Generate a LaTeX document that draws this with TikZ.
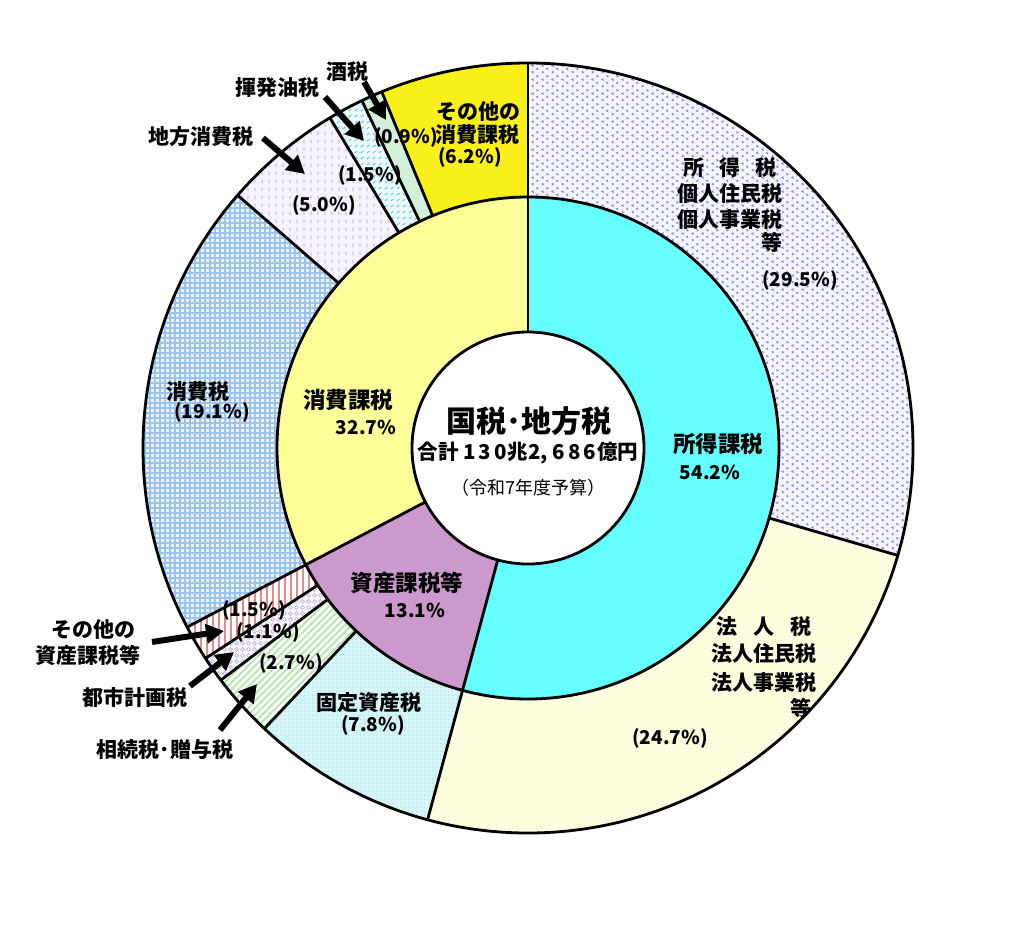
\documentclass[tikz,border=0pt]{standalone}
\usepackage{fontspec}
\setmainfont{Noto Sans CJK JP}
\usetikzlibrary{arrows.meta,patterns}

\pgfdeclarepatternformonly{chev}{\pgfqpoint{0pt}{0pt}}{\pgfqpoint{10pt}{14pt}}{\pgfqpoint{10pt}{14pt}}{%
  \pgfsetlinewidth{0.8pt}%
  \pgfpathmoveto{\pgfqpoint{2pt}{1pt}}\pgfpathlineto{\pgfqpoint{4pt}{2pt}}\pgfpathlineto{\pgfqpoint{2pt}{3pt}}%
  \pgfpathmoveto{\pgfqpoint{9pt}{4.5pt}}\pgfpathlineto{\pgfqpoint{7pt}{5.5pt}}\pgfpathlineto{\pgfqpoint{9pt}{6.5pt}}%
  \pgfpathmoveto{\pgfqpoint{4pt}{8pt}}\pgfpathlineto{\pgfqpoint{2pt}{9pt}}\pgfpathlineto{\pgfqpoint{4pt}{10pt}}%
  \pgfpathmoveto{\pgfqpoint{7pt}{11.5pt}}\pgfpathlineto{\pgfqpoint{9pt}{12.5pt}}\pgfpathlineto{\pgfqpoint{7pt}{13.5pt}}%
  \pgfusepath{stroke}}
\pgfdeclarepatternformonly{fgrid}{\pgfqpoint{-1pt}{-1pt}}{\pgfqpoint{6pt}{6pt}}{\pgfqpoint{5pt}{5pt}}{%
  \pgfsetlinewidth{1.1pt}%
  \pgfpathmoveto{\pgfqpoint{0pt}{-1pt}}\pgfpathlineto{\pgfqpoint{0pt}{6pt}}%
  \pgfpathmoveto{\pgfqpoint{-1pt}{0pt}}\pgfpathlineto{\pgfqpoint{6pt}{0pt}}%
  \pgfusepath{stroke}}
\pgfdeclarepatternformonly{vdash}{\pgfqpoint{0pt}{0pt}}{\pgfqpoint{7pt}{8pt}}{\pgfqpoint{7pt}{8pt}}{%
  \pgfsetlinewidth{0.9pt}%
  \pgfpathmoveto{\pgfqpoint{3.5pt}{1pt}}\pgfpathlineto{\pgfqpoint{3.5pt}{5pt}}%
  \pgfusepath{stroke}}
\pgfdeclarepatternformonly{cdiag}{\pgfqpoint{0pt}{0pt}}{\pgfqpoint{6pt}{6pt}}{\pgfqpoint{6pt}{6pt}}{%
  \pgfsetlinewidth{0.9pt}%
  \pgfpathmoveto{\pgfqpoint{1pt}{1pt}}\pgfpathlineto{\pgfqpoint{4pt}{3.5pt}}%
  \pgfusepath{stroke}}
\pgfdeclarepatternformonly{rvlines}{\pgfqpoint{0pt}{-1pt}}{\pgfqpoint{6pt}{5pt}}{\pgfqpoint{6pt}{4pt}}{%
  \pgfsetlinewidth{1.4pt}%
  \pgfpathmoveto{\pgfqpoint{3pt}{-1pt}}\pgfpathlineto{\pgfqpoint{3pt}{5pt}}%
  \pgfusepath{stroke}}
\pgfdeclarepatternformonly{rings}{\pgfqpoint{0pt}{0pt}}{\pgfqpoint{6pt}{6pt}}{\pgfqpoint{6pt}{6pt}}{%
  \pgfsetlinewidth{0.6pt}%
  \pgfpathcircle{\pgfqpoint{3pt}{3pt}}{2.2pt}%
  \pgfusepath{stroke}}
\pgfdeclarepatternformonly{gdiag}{\pgfqpoint{-1pt}{-1pt}}{\pgfqpoint{8pt}{8pt}}{\pgfqpoint{7pt}{7pt}}{%
  \pgfsetlinewidth{1.8pt}%
  \pgfpathmoveto{\pgfqpoint{0pt}{0pt}}\pgfpathlineto{\pgfqpoint{7.1pt}{7.1pt}}%
  \pgfusepath{stroke}}
\pgfdeclarepatternformonly{fdots}{\pgfqpoint{0pt}{0pt}}{\pgfqpoint{4pt}{4pt}}{\pgfqpoint{4pt}{4pt}}{%
  \pgfpathcircle{\pgfqpoint{1pt}{1pt}}{0.7pt}%
  \pgfusepath{fill}}

\definecolor{cyanin}{RGB}{102,255,255}
\definecolor{yellowin}{RGB}{255,255,153}
\definecolor{purplein}{RGB}{204,153,204}
\definecolor{incbg}{RGB}{244,244,252}
\definecolor{incfg}{RGB}{125,125,215}
\definecolor{corpbg}{RGB}{255,255,226}
\definecolor{corpfg}{RGB}{246,240,190}
\definecolor{fixbg}{RGB}{214,245,248}
\definecolor{fixfg}{RGB}{150,215,225}
\definecolor{grnfg}{RGB}{185,232,175}
\definecolor{ringfg}{RGB}{185,165,210}
\definecolor{ringbg}{RGB}{249,246,251}
\definecolor{redfg}{RGB}{228,140,140}
\definecolor{gridbg}{RGB}{236,244,253}
\definecolor{gridfg}{RGB}{155,195,238}
\definecolor{locbg}{RGB}{246,243,252}
\definecolor{locfg}{RGB}{170,150,220}
\definecolor{gasbg}{RGB}{236,250,252}
\definecolor{gasfg}{RGB}{60,200,220}
\definecolor{sakebg}{RGB}{210,240,215}
\definecolor{othbg}{RGB}{250,240,25}

\newcommand\ringseg[5]{\path[#5] (#1:#3) arc[start angle=#1,end angle=#2,radius=#3] -- (#2:#4) arc[start angle=#2,end angle=#1,radius=#4] -- cycle;}

\begin{document}
\begin{tikzpicture}[x=1pt,y=-1pt,
  bd/.style={line width=2.8pt,black},
  lab/.style={font=\fontsize{21}{24}\selectfont\bfseries,inner sep=0pt},
  inlab/.style={font=\fontsize{22.5}{26}\selectfont\bfseries,inner sep=0pt},
  pct/.style={font=\fontsize{19}{22}\selectfont\bfseries,inner sep=0pt},
  arr/.style={line width=6pt,black,-{Triangle[length=18pt,width=19pt]}}]
\useasboundingbox (0,0) rectangle (1024,928);
\fill[white] (0,0) rectangle (1024,928);

\begin{scope}[shift={(528,448)}]
  % inner ring
  \ringseg{-90}{105.12}{116}{251}{fill=cyanin}
  \ringseg{105.12}{152.28}{116}{251}{fill=purplein}
  \ringseg{152.28}{270}{116}{251}{fill=yellowin}
  % outer ring
  \ringseg{-90}{16.2}{251}{385}{fill=incbg,postaction={pattern=chev,pattern color=incfg}}
  \ringseg{16.2}{105.12}{251}{385}{fill=corpbg,postaction={pattern=fdots,pattern color=corpfg}}
  \ringseg{105.12}{133.2}{251}{385}{fill=fixbg,postaction={pattern=fdots,pattern color=fixfg}}
  \ringseg{133.2}{142.92}{251}{385}{fill=white,postaction={pattern=gdiag,pattern color=grnfg}}
  \ringseg{142.92}{146.88}{251}{385}{fill=ringbg,postaction={pattern=rings,pattern color=ringfg}}
  \ringseg{146.88}{152.28}{251}{385}{fill=white,postaction={pattern=rvlines,pattern color=redfg}}
  \ringseg{152.28}{221.04}{251}{385}{fill=gridbg,postaction={pattern=fgrid,pattern color=gridfg}}
  \ringseg{221.04}{239.04}{251}{385}{fill=locbg,postaction={pattern=vdash,pattern color=locfg}}
  \ringseg{239.04}{244.44}{251}{385}{fill=gasbg,postaction={pattern=cdiag,pattern color=gasfg}}
  \ringseg{244.44}{247.68}{251}{385}{fill=sakebg}
  \ringseg{247.68}{270}{251}{385}{fill=othbg}
  % centre
  \fill[white] (0,0) circle[radius=116];
  % boundaries
  \draw[bd] (0,0) circle[radius=385];
  \draw[bd] (0,0) circle[radius=251];
  \draw[bd] (0,0) circle[radius=116];
  \foreach \a in {-90,105.12,152.28} \draw[bd] (\a:116) -- (\a:251);
  \foreach \a in {-90,16.2,105.12,133.2,142.92,146.88,152.28,221.04,239.04,244.44,247.68} \draw[bd] (\a:251) -- (\a:385);
\end{scope}

% centre texts
\node[font=\fontsize{30}{32}\selectfont\bfseries,inner sep=0pt] (ttl) at (529,421) {国税･地方税};
\node[font=\fontsize{20.5}{24}\selectfont\bfseries,inner sep=0pt] (tot) at (528,453) {合計 1\kern3pt3\kern3pt0\kern1pt兆2, 6\kern3pt8\kern3pt6\kern1pt億円};
\node[font=\fontsize{18}{22}\selectfont,inner sep=0pt] (yr) at (528,488) {（令和7年度予算）};

% inner ring labels
\node[inlab] (i1) at (718,444) {所得課税};
\node[pct] (i1p) at (710,472) {54.2\%};
\node[inlab] (i2) at (348,400) {消費課税};
\node[pct] (i2p) at (366,427) {32.7\%};
\node[inlab] (i3) at (407,583) {資産課税等};
\node[pct] (i3p) at (415,610) {13.1\%};

% outer ring labels
\node[lab] (o1a) at (730,168) {所\hspace{15pt}得\hspace{15pt}税};
\node[lab] (o1b) at (730,194) {個人住民税};
\node[lab] (o1c) at (730,220) {個人事業税};
\node[lab] (o1d) at (772,242) {等};
\node[pct] (o1p) at (800,280) {(29.5\%)};
\node[lab] (o2a) at (764,627) {法\hspace{16pt}人\hspace{16pt}税};
\node[lab] (o2b) at (764,654) {法人住民税};
\node[lab] (o2c) at (764,683) {法人事業税};
\node[lab] (o2d) at (801,708) {等};
\node[pct] (o2p) at (670,738) {(24.7\%)};
\node[lab] (o3) at (369,703) {固定資産税};
\node[pct] (o3p) at (373,725) {(7.8\%)};
\node[pct] (o4p) at (291,663) {(2.7\%)};
\node[pct] (o5p) at (268,632) {(1.1\%)};
\node[pct] (o6p) at (254,610) {(1.5\%)};
\node[lab] (o6a) at (93,630) {その他の};
\node[lab] (o6b) at (88,655) {資産課税等};
\node[lab] (o5) at (135,697) {都市計画税};
\node[lab] (o4) at (165,750) {相続税･贈与税};
\node[lab] (o7) at (198,392) {消費税};
\node[pct] (o7p) at (212,412) {(19.1\%)};
\node[lab] (o8) at (201,137) {地方消費税};
\node[pct] (o8p) at (324,205) {(5.0\%)};
\node[lab] (o9) at (277,88) {揮発油税};
\node[pct] (o9p) at (370,175) {(1.5\%)};
\node[lab] (o10) at (347,72) {酒税};
\node[pct] (o10p) at (406,137) {(0.9\%)};
\node[lab] (o11a) at (478,112) {その他の};
\node[lab] (o11b) at (477,135) {消費課税};
\node[pct] (o11p) at (470,157) {(6.2\%)};

% arrows
\coordinate (a8s) at (263,138);  \coordinate (a8e) at (305,174);
\coordinate (a9s) at (325,97);   \coordinate (a9e) at (364,141);
\coordinate (a10s) at (364,82);  \coordinate (a10e) at (386,120);
\coordinate (a6s) at (152,642);  \coordinate (a6e) at (224,631);
\coordinate (a5s) at (190,686);  \coordinate (a5e) at (234,652);
\coordinate (a4s) at (220,730);  \coordinate (a4e) at (257,684);
\draw[arr] (a8s) -- (a8e);
\draw[arr] (a9s) -- (a9e);
\draw[arr] (a10s) -- (a10e);
\draw[arr] (a6s) -- (a6e);
\draw[arr] (a5s) -- (a5e);
\draw[arr] (a4s) -- (a4e);
\end{tikzpicture}
\end{document}
